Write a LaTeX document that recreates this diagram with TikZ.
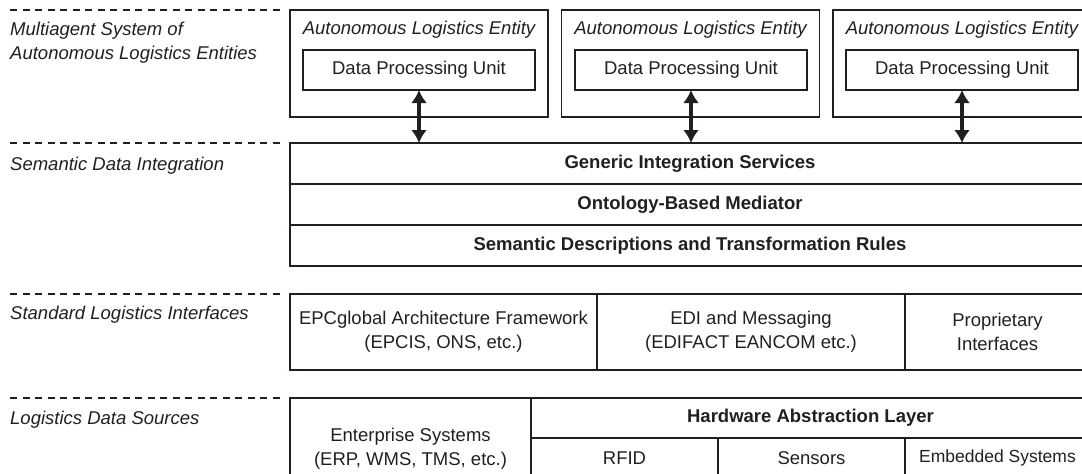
\documentclass[tikz,border=0pt]{standalone}
\usepackage{fontspec}
\setmainfont{Liberation Sans}
\usetikzlibrary{positioning}
\usetikzlibrary{arrows.meta}
\usetikzlibrary{calc}
\tikzset{>=latex}
\definecolor{ink}{HTML}{231F20}
\newcommand{\diafont}{\fontsize{18.5}{24}\selectfont}
\tikzstyle{tierlabel}=[anchor=west,inner sep=0pt,align=left,font=\diafont\itshape,text=ink]
\tikzstyle{sepline}=[ink,line width=1.2pt,dash pattern=on 7pt off 5.5pt]
\tikzstyle{entbox}=[draw=ink,line width=1.3pt,shape=rectangle,minimum width=258pt,minimum height=107pt,inner sep=0pt,outer sep=0pt]
\tikzstyle{enttitle}=[font=\diafont\itshape,text=ink,inner sep=0pt]
\tikzstyle{dpubox}=[draw=ink,line width=1.3pt,shape=rectangle,minimum width=232pt,minimum height=40pt,inner sep=0pt,outer sep=0pt,text=ink]
\tikzstyle{layerbox}=[draw=ink,line width=1.3pt,shape=rectangle,inner sep=0pt,outer sep=0pt,align=center,text=ink]
\tikzstyle{dbl}=[{Latex[length=13pt,width=16pt]}-{Latex[length=13pt,width=16pt]},line width=4pt,color=ink]

\begin{document}
\begin{tikzpicture}[x=1pt,y=-1pt,font=\diafont]
	\clip (0,0) rectangle (1082,474);
	
	% tier separators and names
	\foreach \y in {10,143,294,398}
		\draw[sepline] (10,\y) -- (283,\y);
	\node[tierlabel] (masl) at (10,43) {Multiagent System of\\Autonomous Logistics Entities};
	\node[tierlabel] (sdil) at (10,166) {Semantic Data Integration};
	\node[tierlabel] (slil) at (10,315) {Standard Logistics Interfaces};
	\node[tierlabel] (ldsl) at (10,420) {Logistics Data Sources};
	
	% Autonomous logistics entities
	\node[entbox] (ent1) at (419,63.5) {};
	\node[entbox] (ent2) at (690.5,63.5) {};
	\node[entbox] (ent3) at (962,63.5) {};
	\node[enttitle] (ent1t) at (419,30) {Autonomous Logistics Entity};
	\node[enttitle] (ent2t) at (690.5,30) {Autonomous Logistics Entity};
	\node[enttitle] (ent3t) at (962,30) {Autonomous Logistics Entity};
	\node[dpubox] (dpu1) at (419,70) {Data Processing Unit};
	\node[dpubox] (dpu2) at (691,70) {Data Processing Unit};
	\node[dpubox] (dpu3) at (962,70) {Data Processing Unit};
	
	% Semantic data integration
	\node[layerbox, minimum width=800pt, minimum height=41pt] (gis) at (690,163.5) {\bfseries Generic Integration Services};
	\node[layerbox, minimum width=800pt, minimum height=41pt, below=0pt of gis] (obm) {\bfseries Ontology-Based Mediator};
	\node[layerbox, minimum width=800pt, minimum height=41pt, below=0pt of obm] (sdt) {\bfseries Semantic Descriptions and Transformation Rules};
	\draw[dbl] (dpu1.south) -- (dpu1.south |- gis.north);
	\draw[dbl] (dpu2.south) -- (dpu2.south |- gis.north);
	\draw[dbl] (dpu3.south) -- (dpu3.south |- gis.north);
	
	% Standard logistics interfaces
	\node[layerbox, minimum width=307pt, minimum height=76pt] (epc) at (443.5,332) {EPCglobal Architecture Framework\\(EPCIS, ONS, etc.)};
	\node[layerbox, minimum width=308pt, minimum height=76pt, right=0pt of epc] (edi) {EDI and Messaging\\(EDIFACT EANCOM etc.)};
	\node[layerbox, minimum width=185pt, minimum height=76pt, right=0pt of edi] (prop) {Proprietary\\Interfaces};
	
	% Logistics data sources
	\node[layerbox, minimum width=241pt, minimum height=102pt] (erp) at (410.5,449) {Enterprise Systems\\(ERP, WMS, TMS, etc.)};
	\node[layerbox, minimum width=559pt, minimum height=40pt, anchor=north west] (hal) at (erp.north east) {\bfseries Hardware Abstraction Layer};
	\node[layerbox, minimum width=187pt, minimum height=40pt, anchor=north west] (rfid) at (hal.south west) {RFID};
	\node[layerbox, minimum width=187pt, minimum height=40pt, right=0pt of rfid] (sens) {Sensors};
	\node[layerbox, minimum width=185pt, minimum height=40pt, right=0pt of sens, font=\fontsize{17.5}{20}\selectfont] (emb) {Embedded Systems};
	
\end{tikzpicture}
\end{document}
